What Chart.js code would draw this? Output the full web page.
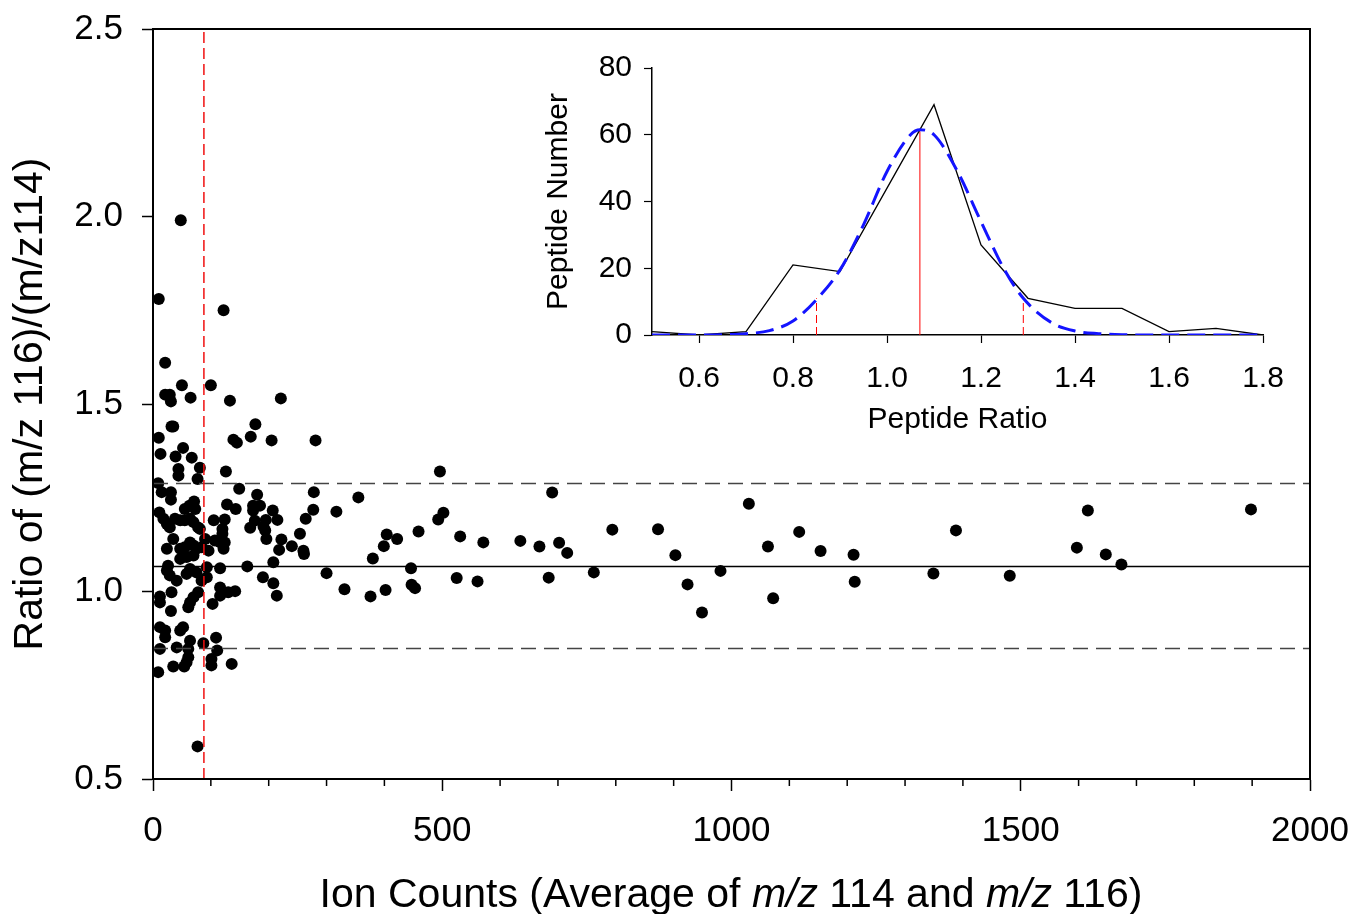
<!DOCTYPE html>
<html>
<head>
<meta charset="utf-8">
<script src="https://cdn.jsdelivr.net/npm/chart.js@4.4.1/dist/chart.umd.min.js"></script>
<style>
    html, body { margin: 0; padding: 0; background: #fff; overflow: hidden; }
    #wrap { position: relative; width: 1353px; height: 914px; }
    #mainChart { position: absolute; left: 0; top: 0; }
    #insetChart { position: absolute; left: 520px; top: 40px; }
    #xTitle {
        position: absolute; left: 231px; top: 873px; width: 1000px;
        text-align: center; white-space: nowrap; color: #000;
        font: 41px "Liberation Sans", Arial, Helvetica, sans-serif; line-height: 41px;
    }
</style>
</head>
<body>
<div id="wrap">
    <canvas id="mainChart" width="1353" height="914"></canvas>
    <canvas id="insetChart" width="780" height="400"></canvas>
    <div id="xTitle">Ion Counts (Average of <i>m/z</i> 114 and <i>m/z</i> 116)</div>
</div>
<script>
const FONT = '"Liberation Sans", Arial, Helvetica, sans-serif';

// main scatter: ion counts vs ratio
const ionCounts = [
    48, 10, 122, 21, 50, 100, 21, 29, 31, 65, 133, 221, 32, 35, 177, 10, 139, 145, 169, 205, 281, 13, 39, 52, 67,
    44, 44, 81, 77, 126, 9, 15, 31, 31, 149, 180, 173, 185, 173, 128, 143, 63, 71, 73, 55, 207, 278, 277,
    11, 18, 24, 29, 38, 47, 55, 64, 70, 78, 81, 105, 124, 120, 120, 35, 90, 107, 116, 124,
    24, 47, 55, 64, 70, 75, 84, 96, 122, 168, 176, 195, 191, 194, 196, 215, 222, 218, 240, 254, 260, 264,
    47, 58, 70, 26, 93, 116, 163, 208, 24, 29, 41, 58, 64, 75, 84, 93, 190, 208, 214,
    32, 12, 12, 78, 70, 64, 61, 116, 116, 130, 142, 103, 31, 12, 21, 21, 47, 52, 12, 41, 64, 61, 61, 58,
    87, 109, 111, 101, 101, 136, 35, 54, 9, 77,
    496, 317, 355, 261, 300, 331, 376, 402, 380, 399, 404, 422, 459, 446, 447, 453, 493, 502, 531, 525,
    571, 561, 635, 668, 690, 702, 716, 684, 762, 794, 873, 903, 924, 949, 981, 1030, 1063, 1072,
    1117, 1154, 1211, 1213, 1349, 1388, 1481, 1597, 1616, 1647, 1674, 1898
];
const ionRatios = [
    1.99, 1.78, 1.75, 1.61, 1.55, 1.55, 1.525, 1.525, 1.507, 1.517, 1.509, 1.515, 1.44, 1.44, 1.446, 1.41, 1.405, 1.397, 1.413, 1.403, 1.403, 1.367, 1.36, 1.383, 1.357,
    1.327, 1.309, 1.33, 1.30, 1.32, 1.289, 1.265, 1.265, 1.245, 1.274, 1.258, 1.229, 1.229, 1.216, 1.232, 1.22, 1.229, 1.24, 1.22, 1.22, 1.216, 1.265, 1.218,
    1.211, 1.194, 1.18, 1.171, 1.194, 1.19, 1.19, 1.194, 1.185, 1.171, 1.167, 1.19, 1.192, 1.167, 1.154, 1.14, 1.14, 1.136, 1.131, 1.131,
    1.114, 1.114, 1.118, 1.131, 1.123, 1.114, 1.118, 1.109, 1.114, 1.17, 1.189, 1.191, 1.173, 1.163, 1.14, 1.191, 1.139, 1.111, 1.121, 1.154, 1.109, 1.194,
    1.087, 1.092, 1.096, 1.069, 1.065, 1.062, 1.067, 1.078, 1.056, 1.043, 1.029, 1.047, 1.06, 1.051, 1.029, 1.038, 1.038, 1.022, 0.989,
    0.998, 0.987, 0.971, 0.998, 0.985, 0.971, 0.958, 1.011, 0.989, 0.998, 1.001, 0.967, 0.948, 0.905, 0.896, 0.878, 0.896, 0.905, 0.847, 0.851, 0.869, 0.847, 0.825, 0.811,
    0.862, 0.877, 0.843, 0.82, 0.803, 0.807, 0.80, 0.80, 0.785, 0.587,
    1.32, 1.213, 1.251, 1.10, 1.049, 1.006, 0.987, 1.004, 1.088, 1.121, 1.152, 1.14, 1.16, 1.062, 1.018, 1.009, 1.192, 1.21, 1.147, 1.036,
    1.131, 1.027, 1.135, 1.12, 1.264, 1.13, 1.103, 1.037, 1.051, 1.165, 1.166, 1.097, 1.019, 0.944, 1.055, 1.234, 1.12, 0.982,
    1.159, 1.108, 1.098, 1.026, 1.048, 1.163, 1.042, 1.117, 1.216, 1.099, 1.072, 1.219
];

const meanRatio = 1.067;
const upperRatio = 1.288;
const lowerRatio = 0.848;
const ionCutoff = 88;

const xTicks = [0, 500, 1000, 1500, 2000];
const xMinorStep = 100;
const yTicks = [0.5, 1.0, 1.5, 2.0, 2.5];

// inset: ratio histogram and gaussian fit
const histRatio = [0.5, 0.6, 0.7, 0.8, 0.9, 1.0, 1.1, 1.2, 1.3, 1.4, 1.5, 1.6, 1.7, 1.8];
const histCount = [1, 0, 1, 21, 19, 44, 69, 27, 11, 8, 8, 1, 2, 0];
const fitRatio = [0.5, 0.6, 0.65, 0.7, 0.75, 0.8, 0.85, 0.9, 0.95, 1.0, 1.05, 1.07, 1.1, 1.15, 1.2, 1.25, 1.29, 1.35, 1.4, 1.45, 1.5, 1.6, 1.7, 1.8];
const fitCount = [0, 0, 0.1, 0.4, 1.3, 4.2, 10.6, 19.5, 33, 49, 60, 61.5, 60, 49, 34, 19.5, 11, 3.7, 1.2, 0.4, 0.1, 0, 0, 0];
const insetMean = 1.07;
const insetMeanTop = 61;
const insetLow = 0.85;
const insetHigh = 1.29;
const insetBoundTop = 11;

const insetXTicks = [0.6, 0.8, 1.0, 1.2, 1.4, 1.6, 1.8];
const insetYTicks = [0, 20, 40, 60, 80];

function segment(x1, y1, x2, y2) {
    return [{ x: x1, y: y1 }, { x: x2, y: y2 }];
}

// fixed axis box sizes, label overflow left to the layout padding
function fitX(height) {
    return s => { s.height = height; s.paddingLeft = 0; s.paddingRight = 0; };
}
function fitY(width) {
    return s => { s.width = width; s.paddingTop = 0; s.paddingBottom = 0; };
}

const framePlugin = {
    id: 'frame',
    afterDraw(chart) {
        const { ctx, chartArea: a, scales } = chart;
        ctx.save();
        ctx.strokeStyle = '#000';
        ctx.lineWidth = 2;
        ctx.strokeRect(a.left, a.top, a.right - a.left, a.bottom - a.top);
        // minor ticks on x
        ctx.lineWidth = 1.5;
        ctx.beginPath();
        for (let v = xTicks[0]; v <= xTicks[xTicks.length - 1]; v += xMinorStep) {
            if (xTicks.includes(v)) continue;
            const px = scales.x.getPixelForValue(v);
            ctx.moveTo(px, a.bottom);
            ctx.lineTo(px, a.bottom + 7);
        }
        ctx.stroke();
        ctx.restore();
    }
};

Chart.defaults.font.family = FONT;
Chart.defaults.color = '#000';

new Chart(document.getElementById('mainChart'), {
    type: 'scatter',
    data: {
        datasets: [
            { label: 'Cutoff', data: segment(ionCutoff, yTicks[0], ionCutoff, yTicks[yTicks.length - 1]), showLine: true,
              borderColor: '#f01010', borderWidth: 1.5, borderDash: [11, 5], pointRadius: 0 },
            { label: 'Mean', data: segment(xTicks[0], meanRatio, xTicks[xTicks.length - 1], meanRatio), showLine: true,
              borderColor: '#000', borderWidth: 1.5, pointRadius: 0 },
            { label: 'Upper', data: segment(xTicks[0], upperRatio, xTicks[xTicks.length - 1], upperRatio), showLine: true,
              borderColor: '#444', borderWidth: 1.5, borderDash: [15, 8], pointRadius: 0 },
            { label: 'Lower', data: segment(xTicks[0], lowerRatio, xTicks[xTicks.length - 1], lowerRatio), showLine: true,
              borderColor: '#444', borderWidth: 1.5, borderDash: [15, 8], pointRadius: 0 },
            { label: 'Peptides', data: ionCounts.map((x, i) => ({ x, y: ionRatios[i] })),
              pointRadius: 6, pointBackgroundColor: '#000', pointBorderWidth: 0, clip: false }
        ]
    },
    options: {
        responsive: false,
        devicePixelRatio: 1,
        animation: false,
        events: [],
        layout: { padding: { left: 0, top: 29, right: 43, bottom: 0 } },
        plugins: { legend: { display: false }, tooltip: { enabled: false } },
        scales: {
            x: {
                type: 'linear', min: xTicks[0], max: xTicks[xTicks.length - 1],
                afterBuildTicks: s => { s.ticks = xTicks.map(v => ({ value: v })); },
                afterFit: fitX(135),
                grid: { drawOnChartArea: false, drawTicks: true, tickLength: 12, tickColor: '#000', tickWidth: 1.5 },
                border: { display: true, color: '#000', width: 2 },
                ticks: { font: { size: 35 }, color: '#000', padding: 19, maxRotation: 0, autoSkip: false, callback: v => String(v) }
            },
            y: {
                type: 'linear', min: yTicks[0], max: yTicks[yTicks.length - 1],
                afterBuildTicks: s => { s.ticks = yTicks.map(v => ({ value: v })); },
                afterFit: fitY(153),
                grid: { drawOnChartArea: false, drawTicks: true, tickLength: 11, tickColor: '#000', tickWidth: 1.5 },
                border: { display: true, color: '#000', width: 2 },
                ticks: { font: { size: 35 }, color: '#000', padding: 19, autoSkip: false, callback: v => v.toFixed(1) },
                title: { display: true, text: 'Ratio of (m/z 116)/(m/z114)', font: { size: 41 }, color: '#000', padding: { top: 6, bottom: 0 } }
            }
        }
    },
    plugins: [framePlugin]
});

new Chart(document.getElementById('insetChart'), {
    type: 'scatter',
    data: {
        datasets: [
            { label: 'Gaussian fit', data: fitRatio.map((x, i) => ({ x, y: fitCount[i] })), showLine: true,
              borderColor: '#1414ff', borderWidth: 3, borderDash: [18, 8], pointRadius: 0, cubicInterpolationMode: 'monotone' },
            { label: 'Histogram', data: histRatio.map((x, i) => ({ x, y: histCount[i] })), showLine: true,
              borderColor: '#000', borderWidth: 1.3, pointRadius: 0 },
            { label: 'Mean', data: segment(insetMean, 0, insetMean, insetMeanTop), showLine: true,
              borderColor: '#ff0000', borderWidth: 1, pointRadius: 0 },
            { label: 'Low', data: segment(insetLow, 0, insetLow, insetBoundTop), showLine: true,
              borderColor: '#ff0000', borderWidth: 1, borderDash: [8, 4], pointRadius: 0 },
            { label: 'High', data: segment(insetHigh, 0, insetHigh, insetBoundTop), showLine: true,
              borderColor: '#ff0000', borderWidth: 1, borderDash: [8, 4], pointRadius: 0 }
        ]
    },
    options: {
        responsive: false,
        devicePixelRatio: 1,
        animation: false,
        events: [],
        layout: { padding: { left: 0, top: 28, right: 37, bottom: 0 } },
        plugins: { legend: { display: false }, tooltip: { enabled: false } },
        scales: {
            x: {
                type: 'linear', min: 0.5, max: 1.8,
                afterBuildTicks: s => { s.ticks = insetXTicks.map(v => ({ value: v })); },
                afterFit: fitX(105),
                grid: { drawOnChartArea: false, drawTicks: true, tickLength: 8, tickColor: '#000', tickWidth: 1.2 },
                border: { display: true, color: '#000', width: 1.5 },
                ticks: { font: { size: 30 }, color: '#000', padding: 18, maxRotation: 0, autoSkip: false, callback: v => v.toFixed(1) },
                title: { display: true, text: 'Peptide Ratio', font: { size: 30 }, color: '#000', padding: { top: 0, bottom: 2 } }
            },
            y: {
                type: 'linear', min: 0, max: 80,
                afterBuildTicks: s => { s.ticks = insetYTicks.map(v => ({ value: v })); },
                afterFit: fitY(132),
                grid: { drawOnChartArea: false, drawTicks: true, tickLength: 8, tickColor: '#000', tickWidth: 1.2 },
                border: { display: true, color: '#000', width: 1.5 },
                ticks: { font: { size: 30 }, color: '#000', padding: 12, autoSkip: false, callback: v => String(v) },
                title: { display: true, text: 'Peptide Number', font: { size: 30 }, color: '#000', padding: { top: 21, bottom: 0 } }
            }
        }
    }
});
</script>
</body>
</html>
